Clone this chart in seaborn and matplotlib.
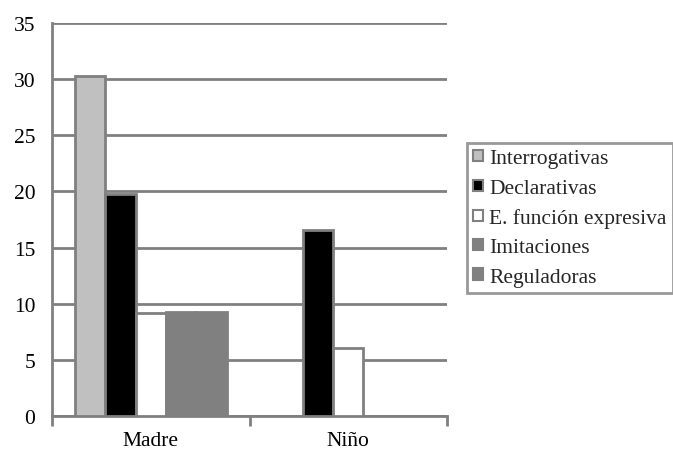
import matplotlib
matplotlib.use("Agg")
import matplotlib.pyplot as plt
import seaborn as sns
import pandas as pd
from matplotlib.patches import Patch
from matplotlib.ticker import FixedLocator

# Data
grupos = ["Madre", "Niño"]
tipos = ["Interrogativas", "Declarativas", "E. función expresiva", "Imitaciones", "Reguladoras"]
madre = [30.3, 19.8, 9.2, 9.3, 9.3]
nino = [0.0, 16.6, 6.1, 0.0, 0.0]
colores = ["#C0C0C0", "#000000", "#FFFFFF", "#808080", "#808080"]
bordes = ["#808080", "#808080", "#808080", "#808080", "#808080"]
y_ticks = [0, 5, 10, 15, 20, 25, 30, 35]

df = pd.DataFrame({
    "grupo": [g for g in grupos for _ in tipos],
    "tipo": tipos * len(grupos),
    "valor": madre + nino,
})

sns.set_theme(style="white")
plt.rcParams["font.family"] = ["Liberation Serif", "DejaVu Serif"]

GRIS = "#808080"
fig = plt.figure(figsize=(6.73, 4.52), dpi=100)
ax = fig.add_axes([52 / 673, 1 - 417 / 452, (447 - 52) / 673, (417 - 24) / 452])

sns.barplot(data=df, x="grupo", y="valor", hue="tipo", hue_order=tipos,
            palette=colores, width=0.77, edgecolor=GRIS, linewidth=2,
            saturation=1, legend=False, ax=ax, zorder=3)

ax.set_xlim(-0.5, 1.5)
ax.set_ylim(0, 35)
ax.set_yticks(y_ticks)
ax.yaxis.grid(True, color=GRIS, linewidth=2)
ax.set_axisbelow(True)
ax.set_xlabel("")
ax.set_ylabel("")

for s in ["top", "right"]:
    ax.spines[s].set_visible(False)
for s in ["left", "bottom"]:
    ax.spines[s].set_color(GRIS)
    ax.spines[s].set_linewidth(2)

ax.xaxis.set_minor_locator(FixedLocator([-0.5, 0.5, 1.5]))
ax.tick_params(axis="x", which="major", length=0, pad=11, labelsize=15.5, colors="black")
ax.tick_params(axis="x", which="minor", length=7, width=2, color=GRIS, direction="out")
ax.tick_params(axis="y", length=7, width=2, color=GRIS, direction="out", pad=5,
               labelsize=15.5, labelcolor="black")
ax.tick_params(axis="x", bottom=True, which="both")

handles = [Patch(facecolor=c, edgecolor=b, linewidth=1.5) for c, b in zip(colores, bordes)]
leg = fig.legend(handles, tipos, loc="upper left", bbox_to_anchor=(467 / 673, 1 - 144 / 452),
                 frameon=True, fancybox=False, fontsize=15.5, handlelength=0.42,
                 handleheight=0.42, handletextpad=0.3, labelspacing=0.48,
                 borderpad=0.3, borderaxespad=0)
leg.get_frame().set_edgecolor(GRIS)
leg.get_frame().set_linewidth(2)

fig.savefig("out.png", dpi=100)
